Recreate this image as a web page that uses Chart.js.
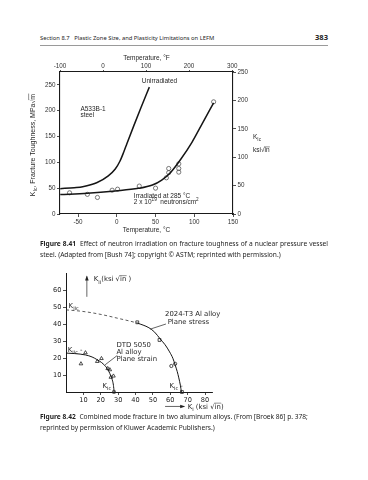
<!DOCTYPE html>
<html>
<head>
<meta charset="utf-8">
<script src="https://cdn.jsdelivr.net/npm/chart.js@4.4.0/dist/chart.umd.min.js"></script>
<style>
  html, body { margin: 0; padding: 0; background: #fff; }
  #page { position: relative; width: 368px; height: 480px; overflow: hidden; font-family: "Noto Sans", sans-serif; color: #242424; }
  .hdr  { position: absolute; top: 34px; left: 40px; font-size: 5.8px; line-height: 8px; white-space: nowrap; }
  .pg   { position: absolute; top: 33px; left: 300px; width: 28px; text-align: right; font-size: 7.6px; line-height: 9px; font-weight: bold; }
  .rule { position: absolute; top: 45px; left: 40px; width: 288px; border-top: 1px solid #9a9a9a; }
  .cap  { position: absolute; left: 40px; width: 288px; font-size: 6.6px; line-height: 11px; }
  .cap div { white-space: nowrap; }
  .cap .just { text-align: justify; text-align-last: justify; }
  .cap b { font-weight: 700; margin-right: 2px; }
  canvas { position: absolute; }
</style>
</head>
<body>
<div id="page">
  <div class="hdr">Section 8.7&nbsp;&nbsp;&nbsp;Plastic Zone Size, and Plasticity Limitations on LEFM</div>
  <div class="pg">383</div>
  <div class="rule"></div>

  <canvas id="fig841" width="270" height="190" style="left:20px;top:50px;width:270px;height:190px"></canvas>
  <div class="cap" style="top:238px">
    <div class="just"><b>Figure 8.41</b> Effect of neutron irradiation on fracture toughness of a nuclear pressure vessel</div>
    <div>steel. (Adapted from [Bush 74]; copyright © ASTM; reprinted with permission.)</div>
  </div>

  <canvas id="fig842" width="270" height="150" style="left:20px;top:262px;width:270px;height:150px"></canvas>
  <div class="cap" style="top:411px">
    <div><b>Figure 8.42</b> Combined mode fracture in two aluminum alloys. (From [Broek 86] p. 378;</div>
    <div>reprinted by permission of Kluwer Academic Publishers.)</div>
  </div>
</div>

<script>
// ---- Figure 8.41 data: K_Ic (MPa√m) against temperature (°C) ----
const unirrTemp = [-73, -55, -44, -26, -11, -2, 4, 9, 13, 22, 31, 42];
const unirrKIc  = [49, 51, 52.8, 60.4, 73.8, 87, 102, 120, 136, 171, 205, 245.5];

const irrTemp = [-73, -38, -2, 28, 46, 58, 70, 83, 97, 111, 125];
const irrKIc  = [37.5, 40, 44.5, 49.6, 56, 65.5, 81.4, 106.9, 138.7, 176.8, 215];

const irrTestTemp = [-61, -38, -25, -6, 1, 29, 50, 64, 67, 67, 80, 80, 80, 125];
const irrTestKIc  = [41, 38, 32, 46, 48, 54, 50, 70, 80, 88, 81, 88, 97, 217];

// axis ranges and tick labels
const tempC  = [-73.33, 150];
const tempF  = [-100, 302];
const kMPa   = [0, 274.7];
const kKsi   = [0, 250];
const tempCTicks = [-50, 0, 50, 100, 150];
const tempFTicks = [-100, 0, 100, 200, 300];
const kMPaTicks  = [0, 50, 100, 150, 200, 250];
const kKsiTicks  = [0, 50, 100, 150, 200, 250];

// ---- Figure 8.42 data: K_II against K_I (ksi√in) ----
const stressDashKI  = [0, 8, 15.5, 23, 30.5, 36, 41];
const stressDashKII = [48.3, 47.6, 46.5, 45, 43.2, 41.9, 40.6];
const stressKI  = [41, 47.7, 51, 54.2, 57, 59.6, 61.5, 62.8, 64, 64.9, 65.8, 66.4];
const stressKII = [40.6, 37.8, 35.2, 31.2, 27.8, 23.6, 19.8, 15.9, 12, 8.3, 4, 0];
const stressSqKI  = [41, 53.8, 66.7];
const stressSqKII = [41, 30.6, 0];
const stressRdKI  = [60.6, 62.8];
const stressRdKII = [15.3, 16.6];

const strainKI  = [0, 5, 11.2, 15, 17.6, 20.5, 23, 24.6, 25.8, 26.8, 27.3, 27.7];
const strainKII = [22.9, 22.6, 21.8, 20.6, 19.2, 17.3, 14.8, 12.2, 9.4, 6.5, 3.9, 0];
const strainTriKI  = [11.2, 20.4, 18, 24, 25.2, 25.8, 27.3, 8.6];
const strainTriKII = [23.1, 19.7, 18, 13.8, 13.1, 8.7, 9.4, 16.6];
const strainSqKI  = [27.6];
const strainSqKII = [0];

const kI  = [0, 84];
const kII = [0, 70];
const kITicks  = [10, 20, 30, 40, 50, 60, 70, 80];
const kIITicks = [10, 20, 30, 40, 50, 60];

const pts = (xs, ys) => xs.map((v, i) => ({ x: v, y: ys[i] }));
const fixTicks = list => s => { s.ticks = list.map(v => ({ value: v })); };

// ---- small rich-text helper (sub / sup / radical with overbar) ----
function richWidth(ctx, parts, size, fam) {
  let w = 0;
  parts.forEach(([s, m]) => {
    const fs = (m === 'sub' || m === 'sup') ? size * 0.72 : size;
    ctx.font = fs + 'px ' + fam;
    w += ctx.measureText(m === 'rad' ? '√' + s : s).width;
  });
  return w;
}

function drawRich(ctx, parts, x, y, o) {
  const size = o.size, fam = o.family;
  ctx.save();
  ctx.translate(x, y);
  if (o.rotate) ctx.rotate(o.rotate);
  ctx.fillStyle = o.color || '#262626';
  ctx.strokeStyle = o.color || '#262626';
  ctx.textBaseline = 'alphabetic';
  ctx.textAlign = 'left';
  const w = richWidth(ctx, parts, size, fam);
  let cx = o.align === 'center' ? -w / 2 : o.align === 'right' ? -w : 0;
  const base = size * 0.36;
  parts.forEach(([s, m]) => {
    const small = m === 'sub' || m === 'sup';
    ctx.font = (small ? size * 0.72 : size) + 'px ' + fam;
    const dy = m === 'sub' ? size * 0.3 : m === 'sup' ? -size * 0.42 : 0;
    if (m === 'rad') {
      ctx.fillText('√', cx, base);
      cx += ctx.measureText('√').width;
      const tw = ctx.measureText(s).width;
      ctx.fillText(s, cx, base);
      ctx.lineWidth = 0.5;
      ctx.beginPath();
      ctx.moveTo(cx - 0.4, base - size * 0.84);
      ctx.lineTo(cx + tw + 0.3, base - size * 0.84);
      ctx.stroke();
      cx += tw;
    } else {
      ctx.fillText(s, cx, base + dy);
      cx += ctx.measureText(s).width;
    }
  });
  ctx.restore();
}

const sans = '"Liberation Sans", Arial, sans-serif';
const hand = '"DejaVu Sans", sans-serif';

// ─── Figure 8.41 ───────────────────────────

const notes841 = {
  id: 'notes841',
  afterDraw(chart) {
    const { ctx, chartArea: a, scales: { x, y } } = chart;
    const o = { size: 6.5, family: sans };
    const at = (t, k) => [x.getPixelForValue(t), y.getPixelForValue(k)];

    drawRich(ctx, [['Unirradiated', '']], ...at(55, 257), { ...o, align: 'center' });
    drawRich(ctx, [['A533B-1', '']], ...at(-47, 203), o);
    drawRich(ctx, [['steel', '']], ...at(-47, 192), o);
    drawRich(ctx, [['Irradiated at 285 °C', '']], ...at(22, 35.5), o);
    drawRich(ctx, [['2 x 10', ''], ['19', 'sup'], ['  neutrons/cm', ''], ['2', 'sup']], ...at(22, 23.5), o);

    drawRich(ctx, [['K', ''], ['Ic', 'sub'], [', Fracture Toughness, MPa', ''], ['m', 'rad']],
      12, (a.top + a.bottom) / 2 + 2, { ...o, size: 7, align: 'center', rotate: -Math.PI / 2 });
    drawRich(ctx, [['K', ''], ['Ic', 'sub']], a.right + 20, 87, o);
    drawRich(ctx, [['ksi', ''], ['in', 'rad']], a.right + 20, 100, o);
  }
};

const tick841   = { font: { family: sans, size: 6.3 }, color: '#333', padding: 1.5, callback: v => String(v) };
const grid841   = { drawOnChartArea: false, tickLength: 3, color: '#222', lineWidth: 0.8 };
const border841 = { color: '#1a1a1a', width: 1.1 };
const title841  = (text, pad) => ({ display: true, text, color: '#262626', font: { family: sans, size: 6.5 }, padding: pad });

new Chart(document.getElementById('fig841'), {
  type: 'scatter',
  data: {
    datasets: [
      { data: pts(unirrTemp, unirrKIc), showLine: true, pointRadius: 0, borderColor: '#151515', borderWidth: 1.5, cubicInterpolationMode: 'monotone' },
      { data: pts(irrTemp, irrKIc), showLine: true, pointRadius: 0, borderColor: '#151515', borderWidth: 1.5, cubicInterpolationMode: 'monotone' },
      { data: pts(irrTestTemp, irrTestKIc), pointRadius: 2.1, pointStyle: 'circle', borderColor: '#444', borderWidth: 0.7, backgroundColor: 'rgba(255,255,255,0)', clip: false }
    ]
  },
  options: {
    responsive: false,
    animation: false,
    layout: { padding: 0 },
    plugins: { legend: { display: false }, tooltip: { enabled: false } },
    scales: {
      x: {
        position: 'bottom', min: tempC[0], max: tempC[1],
        ticks: tick841, grid: grid841, border: border841,
        afterBuildTicks: fixTicks(tempCTicks),
        title: title841('Temperature, °C', { top: 0, bottom: 6 }),
        afterFit: s => { s.height = 26; }
      },
      xF: {
        type: 'linear', position: 'top', min: tempF[0], max: tempF[1],
        ticks: { ...tick841, padding: 0 }, grid: { ...grid841, tickLength: 2 }, border: border841,
        afterBuildTicks: fixTicks(tempFTicks),
        title: title841('Temperature, °F', { top: 4, bottom: 0 }),
        afterFit: s => { s.height = 22; }
      },
      y: {
        position: 'left', min: kMPa[0], max: kMPa[1],
        ticks: tick841, grid: grid841, border: border841,
        afterBuildTicks: fixTicks(kMPaTicks),
        afterFit: s => { s.width = 40; }
      },
      yK: {
        type: 'linear', position: 'right', min: kKsi[0], max: kKsi[1],
        ticks: tick841, grid: grid841, border: border841,
        afterBuildTicks: fixTicks(kKsiTicks),
        afterFit: s => { s.width = 57; }
      }
    }
  },
  plugins: [notes841]
});

// ─── Figure 8.42 ───────────────────────────

const notes842 = {
  id: 'notes842',
  afterDraw(chart) {
    const { ctx, scales: { x, y } } = chart;
    const o = { size: 6.9, family: hand };
    const at = (a, b) => [x.getPixelForValue(a), y.getPixelForValue(b)];
    const seg = (a, b, c, d, head) => {
      const [x1, y1] = at(a, b), [x2, y2] = at(c, d);
      ctx.save();
      ctx.strokeStyle = '#222'; ctx.fillStyle = '#222'; ctx.lineWidth = 0.7;
      ctx.beginPath(); ctx.moveTo(x1, y1); ctx.lineTo(x2, y2); ctx.stroke();
      if (head) {
        const ang = Math.atan2(y2 - y1, x2 - x1);
        ctx.translate(x2, y2); ctx.rotate(ang);
        ctx.beginPath(); ctx.moveTo(1, 0); ctx.lineTo(-4, -1.8); ctx.lineTo(-4, 1.8); ctx.closePath(); ctx.fill();
      }
      ctx.restore();
    };

    seg(12, 56, 12, 68, true);
    drawRich(ctx, [['K', ''], ['II', 'sub'], ['(ksi ', ''], ['in', 'rad'], [' )', '']], ...at(16, 66.5), o);

    seg(57, -8.5, 68, -8.5, true);
    drawRich(ctx, [['K', ''], ['I', 'sub'], [' (ksi ', ''], ['in', 'rad'], [')', '']], ...at(70, -8.5), o);

    drawRich(ctx, [['K', ''], ['IIc', 'sub']], ...at(1.5, 51), o);
    drawRich(ctx, [['K', ''], ['IIc', 'sub'], [' -', '']], ...at(1, 25), o);
    drawRich(ctx, [['K', ''], ['Ic', 'sub']], ...at(26, 3.8), { ...o, align: 'right' });
    drawRich(ctx, [['K', ''], ['Ic', 'sub'], [' -', '']], ...at(59.5, 3.8), o);

    drawRich(ctx, [['2024-T3 Al alloy', '']], ...at(57, 46), o);
    drawRich(ctx, [['Plane stress', '']], ...at(58.5, 41.5), o);
    seg(57.5, 40, 48.5, 37, false);

    drawRich(ctx, [['DTD 5050', '']], ...at(29, 28), o);
    drawRich(ctx, [['Al alloy', '']], ...at(29, 24), o);
    drawRich(ctx, [['Plane strain', '']], ...at(29, 19.8), o);
    seg(29.5, 21.5, 22.5, 16, false);
  }
};

const tick842   = { font: { family: hand, size: 6.6 }, color: '#222', padding: 1.5, callback: v => String(v) };
const grid842   = { drawOnChartArea: false, tickLength: 3, color: '#222', lineWidth: 0.8 };
const border842 = { color: '#1a1a1a', width: 1 };

new Chart(document.getElementById('fig842'), {
  type: 'scatter',
  data: {
    datasets: [
      { data: pts(stressDashKI, stressDashKII), showLine: true, pointRadius: 0, borderColor: '#333', borderWidth: 0.8, borderDash: [3, 2.5], cubicInterpolationMode: 'monotone' },
      { data: pts(stressKI, stressKII), showLine: true, pointRadius: 0, borderColor: '#151515', borderWidth: 1, cubicInterpolationMode: 'monotone' },
      { data: pts(strainKI, strainKII), showLine: true, pointRadius: 0, borderColor: '#151515', borderWidth: 1, cubicInterpolationMode: 'monotone' },
      { data: pts(stressSqKI, stressSqKII), pointStyle: 'rect', pointRadius: 2, borderColor: '#222', borderWidth: 0.8, backgroundColor: 'rgba(255,255,255,0)', clip: false },
      { data: pts(stressRdKI, stressRdKII), pointStyle: 'circle', pointRadius: 1.6, borderColor: '#222', borderWidth: 0.8, backgroundColor: 'rgba(255,255,255,0)', clip: false },
      { data: pts(strainTriKI, strainTriKII), pointStyle: 'triangle', pointRadius: 2.1, borderColor: '#222', borderWidth: 0.8, backgroundColor: 'rgba(255,255,255,0)', clip: false },
      { data: pts(strainSqKI, strainSqKII), pointStyle: 'rect', pointRadius: 1.8, borderColor: '#222', borderWidth: 0.8, backgroundColor: 'rgba(255,255,255,0)', clip: false }
    ]
  },
  options: {
    responsive: false,
    animation: false,
    layout: { padding: { top: 11, right: 78, left: 0, bottom: 0 } },
    plugins: { legend: { display: false }, tooltip: { enabled: false } },
    scales: {
      x: {
        position: 'bottom', min: kI[0], max: kI[1],
        ticks: tick842, grid: grid842, border: border842,
        afterBuildTicks: fixTicks(kITicks),
        afterFit: s => { s.height = 20; }
      },
      y: {
        position: 'left', min: kII[0], max: kII[1],
        ticks: tick842, grid: grid842, border: border842,
        afterBuildTicks: fixTicks(kIITicks),
        afterFit: s => { s.width = 46; }
      }
    }
  },
  plugins: [notes842]
});
</script>
</body>
</html>
